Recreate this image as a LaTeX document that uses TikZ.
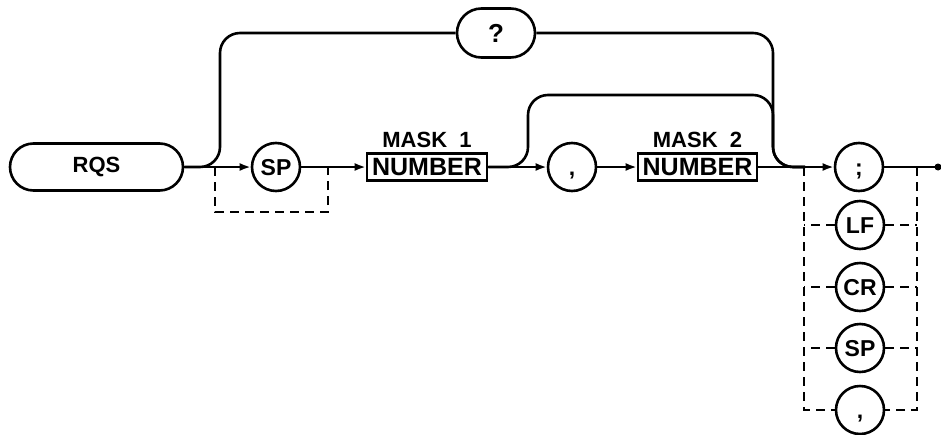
\documentclass[tikz,border=0pt]{standalone}
\usepackage{fontspec}
\setmainfont{Liberation Sans}
\usetikzlibrary{arrows.meta,positioning,shapes.misc}

\begin{document}
\begin{tikzpicture}[
  x=1pt, y=-1pt,
  line width=2.6pt,
  term/.style={draw, rounded rectangle, inner sep=0pt, font=\bfseries\fontsize{22}{22}\selectfont},
  opt/.style={draw, circle, minimum size=48pt, inner sep=0pt, text height=16pt, text depth=0pt, font=\bfseries\fontsize{23}{23}\selectfont},
  numbox/.style={draw, rectangle, minimum width=120pt, minimum height=27pt, inner sep=0pt, font=\bfseries\fontsize{25}{25}\selectfont},
  masklbl/.style={inner sep=1pt, font=\bfseries\fontsize{22}{22}\selectfont},
  arrow/.style={-{Latex[length=11pt,width=8pt]}},
  skip/.style={dash pattern=on 9pt off 6pt, line width=2.2pt},
  loop/.style={rounded corners=20pt}
]
\useasboundingbox (0,0) rectangle (941,434);

% main row
\node[term, minimum width=173pt, minimum height=47pt] (rqs) at (96.5,167) {RQS};
\node[term, minimum width=78pt, minimum height=49pt, font=\bfseries\fontsize{26}{26}\selectfont] (qm) at (496,33) {?};
\node[opt] (sp) at (276,167) {SP};
\node[numbox] (num1) at (427,167) {NUMBER};
\node[masklbl, above=2pt of num1] (mask1) {MASK\ \ 1};
\node[opt] (comma) at (572,167) {,};
\node[numbox, minimum width=119pt] (num2) at (697.5,167) {NUMBER};
\node[masklbl, above=2pt of num2] (mask2) {MASK\ \ 2};
\node[opt] (semi) at (859,167) {;};
\node[circle, fill, inner sep=0pt, minimum size=7pt] (stop) at (938,167) {};

% terminator alternatives
\node[opt] (lf) at (860,225) {LF};
\node[opt] (cr) at (860,287) {CR};
\node[opt] (sp2) at (860,348) {SP};
\node[opt] (comma2) at (860,410) {,};

% junctions
\coordinate (upA) at (220,167);
\coordinate (lpA) at (528,167);
\coordinate (lpB) at (773,95);
\coordinate (jB) at (773,167);
\coordinate (jD) at (805,167);
\coordinate (skA) at (215,167);
\coordinate (skB) at (215,212);
\coordinate (skC) at (328,212);
\coordinate (skD) at (328,167);
\coordinate (tl) at (804,167);
\coordinate (tlb) at (804,410);
\coordinate (tr) at (917,167);
\coordinate (trb) at (917,410);

% connectors
\draw[arrow] (rqs.east) -- (sp.west);
\draw[arrow] (sp.east) -- (num1.west);
\draw[arrow] (num1.east) -- (comma.west);
\draw[arrow] (comma.east) -- (num2.west);
\draw[arrow] (num2.east) -- (semi.west);
\draw (semi.east) -- (stop.center);

\draw[loop] (rqs.east) -- (upA) |- (qm.west);
\draw[loop] (qm.east) -| (jB) -- (jD);
\draw[loop] (num1.east) -- (lpA) |- (lpB) -- (jB) -- (jD);

% optional parts
\draw[skip] (skA) -- (skB) -- (skC) -- (skD);
\draw[skip] (tl) -- (tlb) -- (comma2.west);
\draw[skip] (tr) -- (trb) -- (comma2.east);
\foreach \n in {lf,cr,sp2} {
  \draw[skip] (\n.west) -- (\n.west -| tl);
  \draw[skip] (\n.east) -- (\n.east -| tr);
}

\end{tikzpicture}
\end{document}
